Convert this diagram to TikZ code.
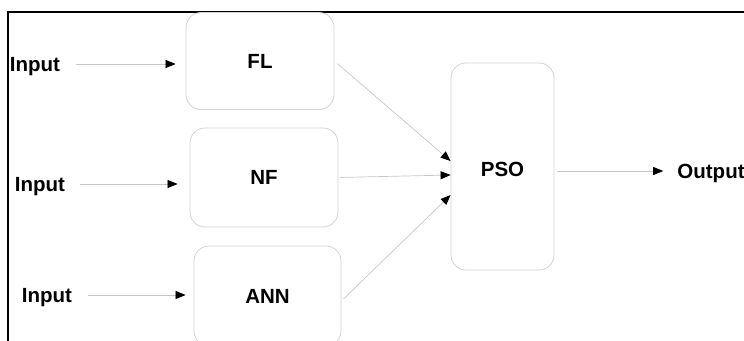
\documentclass[tikz,border=0pt]{standalone}
\usepackage{fontspec}
\setmainfont{Liberation Sans}
\usetikzlibrary{positioning,arrows.meta}
\tikzset{blk/.style={draw=gray!35,rounded corners=15pt,line width=0.8pt,inner sep=0pt,font=\bfseries\fontsize{20.5}{24}\selectfont},
lbl/.style={inner sep=0pt,text height=14.5pt,text depth=0pt,font=\bfseries\fontsize{20.5}{24}\selectfont},
flow/.style={draw=gray!45,line width=0.7pt,-{Triangle[length=10pt,width=8pt,color=black]}}}

\begin{document}
\begin{tikzpicture}[x=1pt,y=-1pt]
\useasboundingbox (0,0) rectangle (744,340);
\draw[line width=1.4pt] (8,345) -- (8,12) -- (750,12);

\node[blk,minimum width=148pt,minimum height=97pt] (fl) at (260,61) {FL};
\node[blk,minimum width=148pt,minimum height=99pt] (nf) at (264,177.5) {NF};
\node[blk,minimum width=147pt,minimum height=100pt] (ann) at (267.5,296) {ANN};
\node[blk,minimum width=103pt,minimum height=207pt,text height=19.7pt] (pso) at (502.5,166.5) {PSO};

\node[lbl] (in1) at (35,64) {Input};
\node[lbl] (in2) at (40,184) {Input};
\node[lbl] (in3) at (47,295) {Input};
\node[lbl] (out) at (711,171) {Output};

\draw[flow,shorten <=16pt,shorten >=10pt] (in1) -- (in1 -| fl.west);
\draw[flow,shorten <=15pt,shorten >=12pt] (in2) -- (in2 -| nf.west);
\draw[flow,shorten <=16pt,shorten >=8pt] (in3) -- (in3 -| ann.west);

\draw[flow,shorten <=4pt] (fl.east) -- ([yshift=5.5pt]pso.west);
\draw[flow,shorten <=2pt] (nf.east) -- ([yshift=-8.5pt]pso.west);
\draw[flow,shorten <=3pt] ([yshift=-5pt]ann.east) -- ([yshift=-28.5pt]pso.west);

\draw[flow,shorten <=3pt,shorten >=14pt] (pso.east |- out) -- (out);
\end{tikzpicture}
\end{document}
